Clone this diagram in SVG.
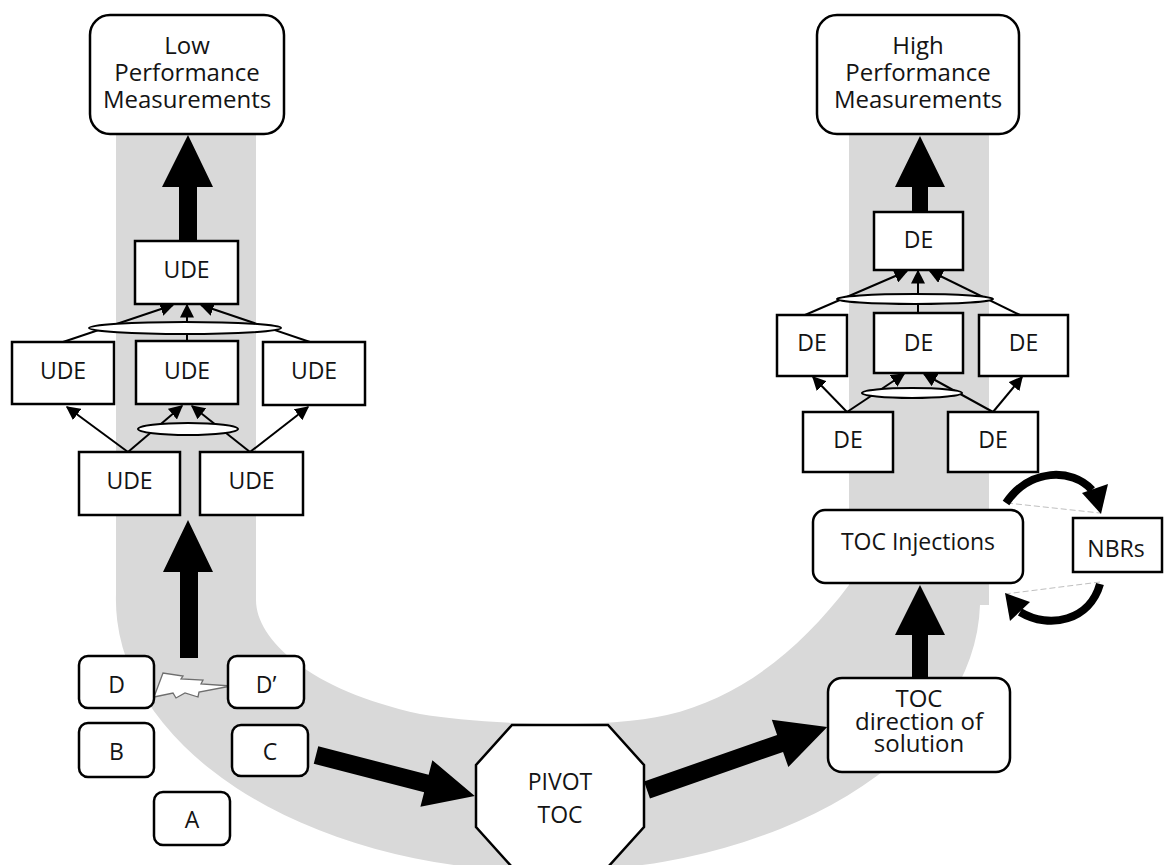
<svg xmlns="http://www.w3.org/2000/svg" width="1164" height="865" viewBox="0 0 1164 865">
  <defs>
    <style>
      .box { fill: #ffffff; stroke: #000000; stroke-width: 2.5; }
      .lbl { font-family: "Open Sans", "Noto Sans", "Liberation Sans", sans-serif; font-size: 23px; fill: #141414; text-anchor: middle; }
      .big { font-size: 24px; }
      .thin { stroke: #000000; stroke-width: 2; fill: none; marker-end: url(#tip); }
      .lens { fill: #ffffff; stroke: #000000; stroke-width: 2; }
      .fat { fill: #000000; stroke: none; }
      .chord { stroke: #bfbfbf; stroke-width: 1; stroke-dasharray: 6 3; fill: none; }
      .loop { stroke: #000000; stroke-width: 8; fill: none; }
    </style>
    <marker id="tip" viewBox="0 0 10 10" refX="9" refY="5" markerWidth="7" markerHeight="7" orient="auto" markerUnits="strokeWidth">
      <path d="M0,0 L10,5 L0,10 Z" fill="#000000"/>
    </marker>
  </defs>

  <rect width="1164" height="865" fill="#ffffff"/>

  <!-- U-shaped grey track -->
  <path id="track" fill="#d9d9d9" d="M116,133 L256,133 L256,600 C256,640 310,690 420,714 C480,724 600,730 667,715 C740,698 800,650 849,585 L849,133 L989,133 L989,605 L980,605 A432,272 0 0 1 116,594 Z"/>

  <!-- connectors -->
  <g id="connectors">
    <!-- thick arrows -->
    <polygon class="fat" points="179,241 179,187 162,187 188,135 213,187 197,187 197,241"/>
    <polygon class="fat" points="180,658 180,572 163,572 188,520 213,572 198,572 198,658"/>
    <polygon class="fat" points="912,212 912,187 895,187 920,136 945,187 928,187 928,212"/>
    <polygon class="fat" points="912,678 912,635 895,635 920,585 945,635 928,635 928,678"/>
    <g transform="translate(316,755) rotate(14.46)">
      <polygon class="fat" points="0,-9 114,-9 114,-24 164,0 114,24 114,9 0,9"/>
    </g>
    <g transform="translate(647,790) rotate(-19.29)">
      <polygon class="fat" points="0,-9 141,-9 141,-25 191,0 141,25 141,9 0,9"/>
    </g>

    <!-- left tree -->
    <line class="thin" x1="63" y1="342" x2="173" y2="305"/>
    <line class="thin" x1="187" y1="341" x2="187" y2="305"/>
    <line class="thin" x1="310" y1="342" x2="201" y2="305"/>
    <ellipse class="lens" cx="185" cy="328" rx="96" ry="6"/>
    <line class="thin" x1="128" y1="452" x2="67" y2="407"/>
    <line class="thin" x1="128" y1="452" x2="182" y2="406"/>
    <line class="thin" x1="250" y1="452" x2="192" y2="406"/>
    <line class="thin" x1="250" y1="452" x2="308" y2="407"/>
    <ellipse class="lens" cx="188" cy="429" rx="50" ry="6"/>

    <!-- right tree -->
    <line class="thin" x1="805" y1="315" x2="907" y2="271"/>
    <line class="thin" x1="918" y1="313" x2="918" y2="271"/>
    <line class="thin" x1="1020" y1="315" x2="930" y2="271"/>
    <ellipse class="lens" cx="915" cy="299" rx="78" ry="5"/>
    <line class="thin" x1="847" y1="412" x2="813" y2="377"/>
    <line class="thin" x1="847" y1="412" x2="904" y2="374"/>
    <line class="thin" x1="993" y1="412" x2="924" y2="374"/>
    <line class="thin" x1="993" y1="412" x2="1022" y2="377"/>
    <ellipse class="lens" cx="912" cy="393" rx="50" ry="5"/>

    <!-- conflict bolt between D and D' -->
    <polygon fill="#ffffff" stroke="#6e6e6e" stroke-width="1.3" points="154,697 163,673 183,676 181,679 203,680 201,684 231,686 199,692 198,697 185,693 176,698 173,693 154,697"/>

    <!-- loop with NBRs -->
    <line class="chord" x1="1007" y1="503" x2="1100" y2="513"/>
    <line class="chord" x1="1100" y1="582" x2="1005" y2="594"/>
    <path class="loop" d="M1006,503 C1030,468 1072,468 1092,490"/>
    <polygon class="fat" points="1082,493 1108,484 1101,514"/>
    <path class="loop" d="M1100,584 C1090,620 1050,630 1020,612"/>
    <polygon class="fat" points="1005,593 1030,602 1010,621"/>
  </g>

  <!-- left column -->
  <g id="low-performance">
    <rect class="box" x="90" y="15" width="194" height="119" rx="20"/>
    <text class="lbl big" x="187" y="54">Low</text>
    <text class="lbl big" x="187" y="81">Performance</text>
    <text class="lbl big" x="187" y="108">Measurements</text>
  </g>
  <g id="ude-top">
    <rect class="box" x="135" y="241" width="103" height="63"/>
    <text class="lbl" x="186.5" y="278">UDE</text>
  </g>
  <g id="ude-left">
    <rect class="box" x="12" y="342" width="102" height="62"/>
    <text class="lbl" x="63" y="379">UDE</text>
  </g>
  <g id="ude-mid">
    <rect class="box" x="136" y="341" width="102" height="63"/>
    <text class="lbl" x="187" y="379">UDE</text>
  </g>
  <g id="ude-right">
    <rect class="box" x="263" y="342" width="102" height="63"/>
    <text class="lbl" x="314" y="379">UDE</text>
  </g>
  <g id="ude-low-left">
    <rect class="box" x="79" y="452" width="101" height="63"/>
    <text class="lbl" x="129.5" y="489">UDE</text>
  </g>
  <g id="ude-low-right">
    <rect class="box" x="200" y="452" width="103" height="63"/>
    <text class="lbl" x="251.5" y="489">UDE</text>
  </g>

  <!-- starting points -->
  <g id="node-d">
    <rect class="box" x="79" y="656" width="75" height="52" rx="9"/>
    <text class="lbl" x="116.5" y="693">D</text>
  </g>
  <g id="node-d-prime">
    <rect class="box" x="228" y="656" width="76" height="52" rx="9"/>
    <text class="lbl" x="266" y="693">D’</text>
  </g>
  <g id="node-b">
    <rect class="box" x="79" y="723" width="75" height="54" rx="9"/>
    <text class="lbl" x="116.5" y="760">B</text>
  </g>
  <g id="node-c">
    <rect class="box" x="232" y="725" width="76" height="51" rx="9"/>
    <text class="lbl" x="270" y="760">C</text>
  </g>
  <g id="node-a">
    <rect class="box" x="154" y="792" width="76" height="53" rx="9"/>
    <text class="lbl" x="192" y="828">A</text>
  </g>

  <!-- pivot -->
  <g id="pivot-toc">
    <polygon class="box" points="512,725 608,725 644,765 644,827 608,867 512,867 476,827 476,765"/>
    <text class="lbl" x="560" y="790">PIVOT</text>
    <text class="lbl" x="560" y="823">TOC</text>
  </g>

  <!-- right column -->
  <g id="toc-direction">
    <rect class="box" x="828" y="678" width="182" height="94" rx="14"/>
    <text class="lbl big" x="919" y="707">TOC</text>
    <text class="lbl big" x="919" y="730">direction of</text>
    <text class="lbl big" x="919" y="752">solution</text>
  </g>
  <g id="toc-injections">
    <rect class="box" x="813" y="510" width="210" height="73" rx="12"/>
    <text class="lbl" x="918" y="550">TOC Injections</text>
  </g>
  <g id="nbrs">
    <rect class="box" x="1073" y="518" width="89" height="54"/>
    <text class="lbl" x="1116" y="557">NBRs</text>
  </g>
  <g id="de-low-left">
    <rect class="box" x="803" y="412" width="90" height="60"/>
    <text class="lbl" x="848" y="448">DE</text>
  </g>
  <g id="de-low-right">
    <rect class="box" x="948" y="412" width="90" height="60"/>
    <text class="lbl" x="993" y="448">DE</text>
  </g>
  <g id="de-left">
    <rect class="box" x="777" y="315" width="70" height="61"/>
    <text class="lbl" x="812" y="351">DE</text>
  </g>
  <g id="de-mid">
    <rect class="box" x="874" y="313" width="89" height="60"/>
    <text class="lbl" x="918.5" y="351">DE</text>
  </g>
  <g id="de-right">
    <rect class="box" x="979" y="315" width="89" height="61"/>
    <text class="lbl" x="1023.5" y="351">DE</text>
  </g>
  <g id="de-top">
    <rect class="box" x="874" y="212" width="89" height="58"/>
    <text class="lbl" x="918.5" y="248">DE</text>
  </g>
  <g id="high-performance">
    <rect class="box" x="817" y="15" width="202" height="119" rx="20"/>
    <text class="lbl big" x="918" y="54">High</text>
    <text class="lbl big" x="918" y="81">Performance</text>
    <text class="lbl big" x="918" y="108">Measurements</text>
  </g>
</svg>
